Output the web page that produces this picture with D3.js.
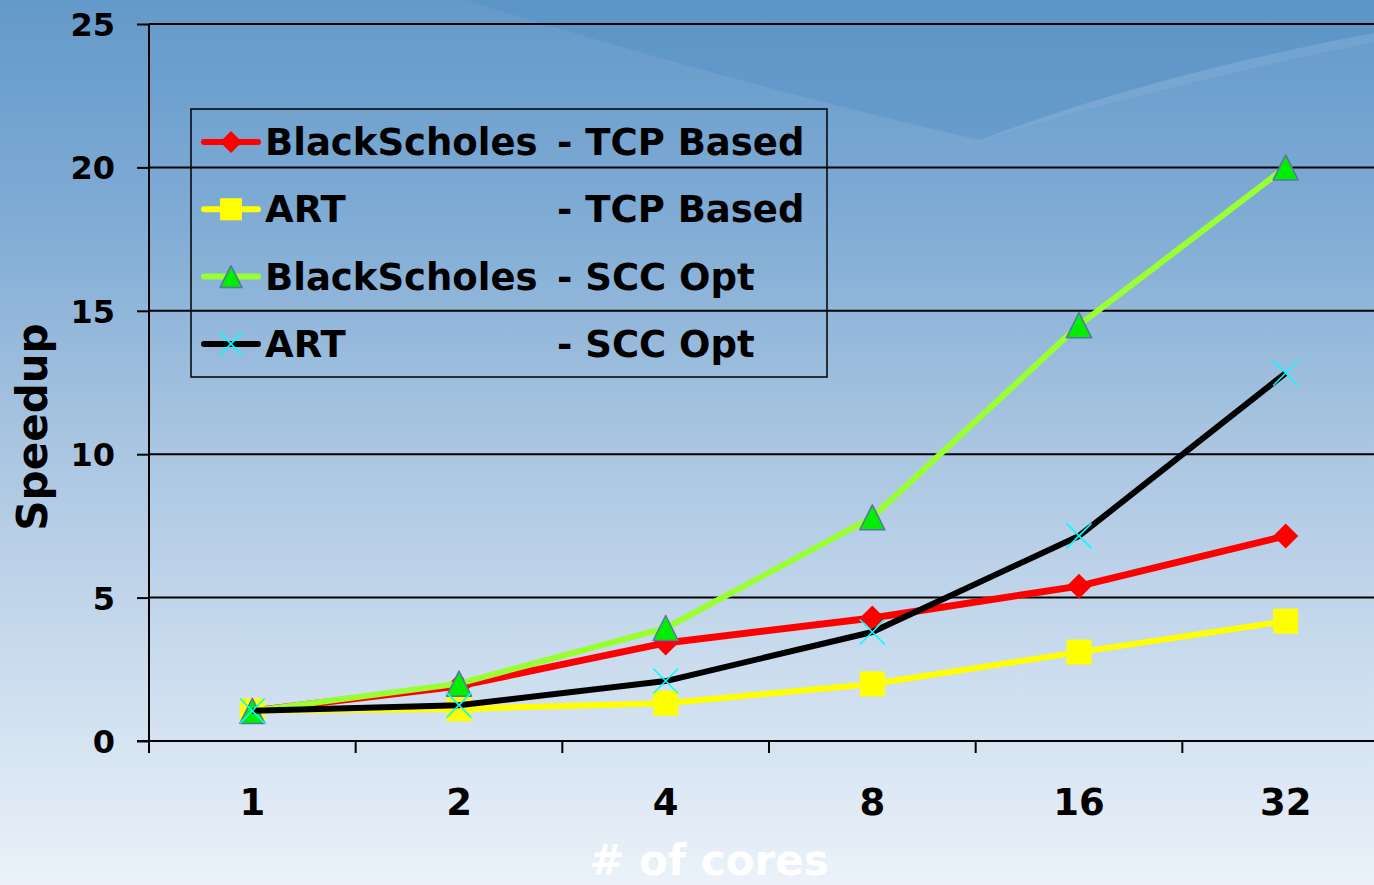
<!DOCTYPE html>
<html>
<head>
<meta charset="utf-8">
<script src="https://cdn.jsdelivr.net/npm/d3@7/dist/d3.min.js"></script>
<style>
html,body{margin:0;padding:0;overflow:hidden;}
svg{display:block;}
text{font-family:"DejaVu Sans",Verdana,sans-serif;font-weight:bold;}
</style>
</head>
<body>
<svg id="chart" width="1374" height="885"></svg>
<script>
// ---- data ----
const categories = ["1", "2", "4", "8", "16", "32"];
const bsTcp  = [1.05, 1.92, 3.42, 4.29, 5.40, 7.15];
const artTcp = [1.05, 1.12, 1.32, 1.99, 3.10, 4.18];
const bsScc  = [1.05, 2.00, 3.94, 7.80, 14.50, 20.00];
const artScc = [1.05, 1.25, 2.09, 3.80, 7.15, 12.83];
const seriesNames = ["BlackScholes", "ART", "BlackScholes", "ART"];
const seriesSuffix = ["- TCP Based", "- TCP Based", "- SCC Opt", "- SCC Opt"];
const yTicks = [0, 5, 10, 15, 20, 25];
const xTitle = "# of cores";
const yTitle = "Speedup";

const series = [
  {name: seriesNames[0], suffix: seriesSuffix[0], values: bsTcp,  line: "#ff0000", marker: "diamond"},
  {name: seriesNames[1], suffix: seriesSuffix[1], values: artTcp, line: "#ffff00", marker: "square"},
  {name: seriesNames[2], suffix: seriesSuffix[2], values: bsScc,  line: "#99ff33", marker: "triangle"},
  {name: seriesNames[3], suffix: seriesSuffix[3], values: artScc, line: "#000000", marker: "cross"}
];

const W = 1374, H = 885;
const svg = d3.select("#chart");

// ---- background ----
const defs = svg.append("defs");
const grad = defs.append("linearGradient").attr("id", "bg").attr("x1", 0).attr("y1", 0).attr("x2", 0).attr("y2", 1);
[[0, "#6399c9"], [0.25, "#80acd5"], [0.5, "#a9c5e1"], [0.75, "#cadcee"], [1, "#ebf2f9"]]
  .forEach(([o, c]) => grad.append("stop").attr("offset", o).attr("stop-color", c));
svg.append("rect").attr("width", W).attr("height", H).attr("fill", "url(#bg)");
svg.append("path")
  .attr("d", "M466,0 L1374,0 L1374,33 Q1150,75 980,140 Q720,80 466,0 Z")
  .attr("fill", "#4e8bc2").attr("opacity", 0.35);
svg.append("path")
  .attr("d", "M1374,33 Q1150,75 980,140 Q1150,88 1374,42 Z")
  .attr("fill", "#9cc0e0").attr("opacity", 0.2);

// ---- scales ----
const x = d3.scaleBand().domain(categories).range([149, 1389]);
const y = d3.scaleLinear().domain([0, 25]).range([741, 24]);
const cx = c => x(c) + x.bandwidth() / 2;

// gridlines
svg.append("g").selectAll("line").data(yTicks.filter(t => t > 0)).join("line")
  .attr("x1", 149).attr("x2", W).attr("y1", d => y(d)).attr("y2", d => y(d))
  .attr("stroke", "#000").attr("stroke-width", 2);

// y axis
const yAxis = svg.append("g").attr("transform", "translate(149,0)")
  .call(d3.axisLeft(y).tickValues(yTicks).tickSize(12).tickPadding(22).tickFormat(d3.format("d")));
yAxis.select(".domain").remove();
yAxis.selectAll(".tick line").attr("stroke", "#000").attr("stroke-width", 2);
yAxis.selectAll(".tick text").attr("font-size", 32).attr("fill", "#000")
  .attr("font-family", "DejaVu Sans").attr("font-weight", "bold").attr("dy", "0.36em");
svg.append("line").attr("x1", 149).attr("x2", 149).attr("y1", y(25)).attr("y2", 752)
  .attr("stroke", "#000").attr("stroke-width", 2);

// x axis
const xAxis = svg.append("g").attr("transform", `translate(0,${y(0)})`)
  .call(d3.axisBottom(x).tickSize(0).tickPadding(48));
xAxis.select(".domain").remove();
xAxis.selectAll(".tick text").attr("font-size", 37).attr("fill", "#000")
  .attr("font-family", "DejaVu Sans").attr("font-weight", "bold").attr("dy", "0.71em");
svg.append("line").attr("x1", 137).attr("x2", W).attr("y1", y(0)).attr("y2", y(0))
  .attr("stroke", "#000").attr("stroke-width", 2);
svg.append("g").selectAll("line").data(categories).join("line")
  .attr("x1", d => x(d)).attr("x2", d => x(d)).attr("y1", y(0)).attr("y2", y(0) + 12)
  .attr("stroke", "#000").attr("stroke-width", 2);

// titles
svg.append("text").attr("x", 709).attr("y", 875).attr("text-anchor", "middle")
  .attr("font-size", 42).attr("fill", "#ffffff").text(xTitle);
svg.append("text").attr("transform", "translate(47,427) rotate(-90)").attr("text-anchor", "middle")
  .attr("font-size", 42).attr("fill", "#000").text(yTitle);

// markers
function drawMarker(g, type, px, py, s) {
  if (type === "diamond") {
    g.append("path").attr("d", `M${px},${py - s / 2}L${px + s / 2},${py}L${px},${py + s / 2}L${px - s / 2},${py}Z`)
      .attr("fill", "#ff0000");
  } else if (type === "square") {
    g.append("rect").attr("x", px - s / 2).attr("y", py - s / 2).attr("width", s).attr("height", s)
      .attr("fill", "#ffff00");
  } else if (type === "triangle") {
    g.append("path").attr("d", `M${px},${py - s / 2}L${px + s / 2},${py + s / 2}L${px - s / 2},${py + s / 2}Z`)
      .attr("fill", "#00ee00").attr("stroke", "#5b73a8").attr("stroke-width", 1.5).attr("stroke-linejoin", "round");
  } else if (type === "cross") {
    const h = s / 2;
    g.append("path").attr("d", `M${px - h},${py - h}L${px + h},${py + h}M${px - h},${py + h}L${px + h},${py - h}`)
      .attr("stroke", "#00ffff").attr("stroke-width", 1.6).attr("fill", "none");
  }
}

const line = d3.line().x((d, i) => cx(categories[i])).y(d => y(d));
series.forEach(s => {
  const g = svg.append("g");
  g.append("path").attr("d", line(s.values)).attr("fill", "none")
    .attr("stroke", s.line).attr("stroke-width", s.marker === "diamond" ? 7 : 6)
    .attr("stroke-linejoin", "round");
  s.values.forEach((v, i) => drawMarker(g, s.marker, cx(categories[i]), y(v), 25));
});

// legend
const lg = svg.append("g");
lg.append("rect").attr("x", 191).attr("y", 109).attr("width", 636).attr("height", 268)
  .attr("fill", "none").attr("stroke", "#000").attr("stroke-width", 1.5);
series.forEach((s, i) => {
  const cyy = 142 + i * 67.3;
  lg.append("line").attr("x1", 204).attr("x2", 258).attr("y1", cyy).attr("y2", cyy)
    .attr("stroke", s.line).attr("stroke-width", 6).attr("stroke-linecap", "round");
  drawMarker(lg, s.marker, 231, cyy, 22);
  lg.append("text").attr("x", 265).attr("y", cyy + 13).attr("font-size", 37).attr("fill", "#000").text(s.name);
  lg.append("text").attr("x", 557).attr("y", cyy + 13).attr("font-size", 37).attr("fill", "#000").text(s.suffix);
});
</script>
</body>
</html>
